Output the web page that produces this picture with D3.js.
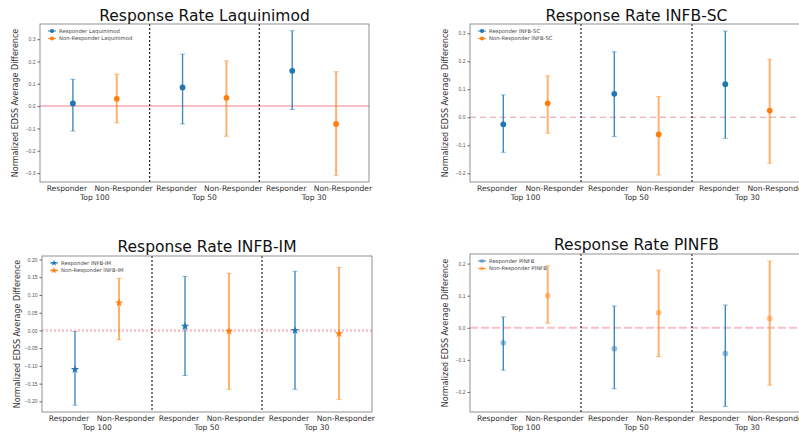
<!DOCTYPE html>
<html>
<head>
<meta charset="utf-8">
<script src="https://cdn.jsdelivr.net/npm/d3@7"></script>
<style>
  html, body { margin: 0; padding: 0; background: #fff; }
  svg { display: block; font-family: "DejaVu Sans", sans-serif; }
</style>
</head>
<body>
<div id="chart"></div>
<script>
// values
const drugs = ['Laquinimod', 'INFB-SC', 'INFB-IM', 'PINFB']
const groups = ['Top 100', 'Top 50', 'Top 30']
const roles = ['Responder', 'Non-Responder']

// one row per drug, one column per group
const responderMean = [
  [0.012, 0.084, 0.158],
  [-0.025, 0.084, 0.118],
  [-0.110, 0.012, 0.000],
  [-0.047, -0.065, -0.080]
]
const responderLow = [
  [-0.112, -0.080, -0.015],
  [-0.125, -0.069, -0.075],
  [-0.211, -0.127, -0.166],
  [-0.132, -0.190, -0.245]
]
const responderHigh = [
  [0.120, 0.233, 0.338],
  [0.080, 0.234, 0.308],
  [-0.003, 0.152, 0.167],
  [0.034, 0.068, 0.071]
]
const nonMean = [
  [0.033, 0.037, -0.080],
  [0.050, -0.061, 0.024],
  [0.078, -0.002, -0.009],
  [0.100, 0.047, 0.029]
]
const nonLow = [
  [-0.075, -0.135, -0.310],
  [-0.057, -0.206, -0.164],
  [-0.026, -0.166, -0.195],
  [0.014, -0.090, -0.179]
]
const nonHigh = [
  [0.143, 0.203, 0.154],
  [0.148, 0.074, 0.207],
  [0.147, 0.161, 0.178],
  [0.193, 0.180, 0.208]
]
const yTicks = [
  [-0.3, -0.2, -0.1, 0.0, 0.1, 0.2, 0.3],
  [-0.2, -0.1, 0.0, 0.1, 0.2, 0.3],
  [-0.20, -0.15, -0.10, -0.05, 0.00, 0.05, 0.10, 0.15, 0.20],
  [-0.2, -0.1, 0.0, 0.1, 0.2]
]

// panel layout
const panels = [
  {left: 40, right: 369, top: 24, bottom: 182, yDomain: [-0.34, 0.368], fmt: '.1f',
    titleY: 21, zeroDash: null, zeroWidth: 1.5, zeroColor: '#f6aab4', marker: d3.symbolCircle, markerAlpha: 1},
  {left: 470, right: 803, top: 24, bottom: 182, yDomain: [-0.231, 0.333], fmt: '.1f',
    titleY: 21, zeroDash: '6,4', zeroWidth: 1.1, zeroColor: '#e4a0a0', marker: d3.symbolCircle, markerAlpha: 1},
  {left: 42, right: 372, top: 256, bottom: 412, yDomain: [-0.23, 0.21], fmt: '.2f',
    titleY: 252, zeroDash: '2,2', zeroWidth: 3, zeroColor: '#f8c8ce', marker: d3.symbolStar, markerAlpha: 1},
  {left: 470, right: 803, top: 254, bottom: 412, yDomain: [-0.2625, 0.23], fmt: '.1f',
    titleY: 250, zeroDash: '8,3', zeroWidth: 2, zeroColor: '#f8c0c6', marker: d3.symbolCircle, markerAlpha: 0.45}
]

const colors = {Responder: '#1f77b4', 'Non-Responder': '#ff7f0e'}
// where the tick labels sit inside a group (fraction of the group width)
const labelPos = {Responder: 0.245, 'Non-Responder': 0.762}

const width = 799
const height = 434

const svg = d3.select('#chart')
  .append('svg')
  .attr('width', width)
  .attr('height', height)

panels.forEach((p, i) => {
  const drug = drugs[i]
  const g = svg.append('g').attr('class', 'panel')

  const x = d3.scaleBand()
    .domain(groups)
    .range([p.left, p.right])
    .padding(0)
  const xr = d3.scalePoint()
    .domain(roles)
    .range([0, x.bandwidth()])
    .padding(0.75)
  const y = d3.scaleLinear()
    .domain(p.yDomain)
    .range([p.bottom, p.top])

  // zero reference line
  g.append('line')
    .attr('x1', p.left).attr('x2', p.right)
    .attr('y1', y(0)).attr('y2', y(0))
    .attr('stroke', p.zeroColor)
    .attr('stroke-width', p.zeroWidth)
    .attr('stroke-dasharray', p.zeroDash)

  // group separators
  groups.slice(1).forEach(grp => {
    g.append('line')
      .attr('x1', x(grp)).attr('x2', x(grp))
      .attr('y1', p.top).attr('y2', p.bottom)
      .attr('stroke', '#222')
      .attr('stroke-width', 1.2)
      .attr('stroke-dasharray', '2,2')
  })

  // error bars
  const rows = []
  groups.forEach((grp, j) => {
    rows.push({role: 'Responder', grp, mean: responderMean[i][j], lo: responderLow[i][j], hi: responderHigh[i][j]})
    rows.push({role: 'Non-Responder', grp, mean: nonMean[i][j], lo: nonLow[i][j], hi: nonHigh[i][j]})
  })
  const cx = d => x(d.grp) + xr(d.role)

  const bars = g.selectAll('.bar')
    .data(rows)
    .enter()
    .append('g')
    .attr('class', 'bar')

  bars.append('line')
    .attr('x1', cx).attr('x2', cx)
    .attr('y1', d => y(d.lo)).attr('y2', d => y(d.hi))
    .attr('stroke', d => colors[d.role])
    .attr('stroke-width', d => d.role === 'Responder' ? 1.4 : 2)
    .attr('stroke-opacity', d => d.role === 'Responder' ? 0.85 : 0.6)

  ;['lo', 'hi'].forEach(k => {
    bars.append('line')
      .attr('x1', d => cx(d) - 2.5).attr('x2', d => cx(d) + 2.5)
      .attr('y1', d => y(d[k])).attr('y2', d => y(d[k]))
      .attr('stroke', d => colors[d.role])
      .attr('stroke-width', 1)
      .attr('stroke-opacity', 0.5)
  })

  const sym = d3.symbol().type(p.marker).size(p.marker === d3.symbolStar ? 22 : 26)
  bars.append('path')
    .attr('transform', d => `translate(${cx(d)},${y(d.mean)})`)
    .attr('d', sym)
    .attr('fill', d => colors[d.role])
    .attr('fill-opacity', p.markerAlpha)

  // frame
  g.append('rect')
    .attr('x', p.left).attr('y', p.top)
    .attr('width', p.right - p.left).attr('height', p.bottom - p.top)
    .attr('fill', 'none')
    .attr('stroke', '#777')
    .attr('stroke-width', 0.8)

  // y axis
  const yAxis = d3.axisLeft(y)
    .tickValues(yTicks[i])
    .tickFormat(d3.format(p.fmt))
    .tickSize(2.5)
    .tickPadding(2)
  const ya = g.append('g')
    .attr('transform', `translate(${p.left},0)`)
    .call(yAxis)
  ya.select('.domain').remove()
  ya.selectAll('text')
    .attr('font-size', 5)
    .attr('fill', '#555')
  ya.selectAll('line').attr('stroke', '#666')

  // x labels: roles, then group names
  rows.forEach(d => {
    g.append('text')
      .attr('x', x(d.grp) + x.bandwidth() * labelPos[d.role])
      .attr('y', p.bottom + 9)
      .attr('text-anchor', 'middle')
      .attr('font-size', 7.6)
      .attr('fill', '#333')
      .text(d.role)
  })
  groups.forEach(grp => {
    g.append('text')
      .attr('x', x(grp) + x.bandwidth() / 2)
      .attr('y', p.bottom + 18)
      .attr('text-anchor', 'middle')
      .attr('font-size', 7.6)
      .attr('fill', '#333')
      .text(grp)
  })

  // y label
  g.append('text')
    .attr('transform', `translate(${p.left - 22},${(p.top + p.bottom) / 2}) rotate(-90)`)
    .attr('text-anchor', 'middle')
    .attr('font-size', 8)
    .attr('fill', '#333')
    .text('Normalized EDSS Average Difference')

  // title
  g.append('text')
    .attr('x', (p.left + p.right) / 2)
    .attr('y', p.titleY)
    .attr('text-anchor', 'middle')
    .attr('font-size', 15.5)
    .attr('fill', '#111')
    .text('Response Rate ' + drug)

  // legend
  roles.forEach((r, k) => {
    const ly = p.top + 7 + k * 7.5
    const lx = p.left + 12
    g.append('line')
      .attr('x1', lx - 4).attr('x2', lx + 4)
      .attr('y1', ly).attr('y2', ly)
      .attr('stroke', colors[r])
      .attr('stroke-width', 1.2)
      .attr('stroke-opacity', 0.8)
    g.append('path')
      .attr('transform', `translate(${lx},${ly})`)
      .attr('d', d3.symbol().type(p.marker).size(14))
      .attr('fill', colors[r])
      .attr('fill-opacity', p.markerAlpha)
    g.append('text')
      .attr('x', lx + 7)
      .attr('y', ly + 1.8)
      .attr('font-size', 5.3)
      .attr('fill', '#444')
      .text(r + ' ' + drug)
  })
})
</script>
</body>
</html>
